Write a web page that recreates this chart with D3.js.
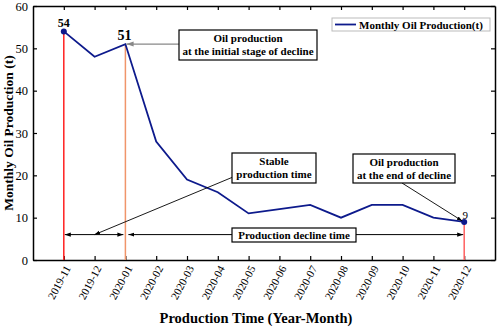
<!DOCTYPE html>
<html>
<head>
<meta charset="utf-8">
<script src="https://cdn.jsdelivr.net/npm/d3@7"></script>
<style>
  body { margin: 0; background: #fff; }
  svg text { font-family: "Liberation Serif", "DejaVu Serif", serif !important; }
</style>
</head>
<body>
<div id="chart"></div>
<script>
// data
const months = ["2019-11", "2019-12", "2020-01", "2020-02", "2020-03", "2020-04", "2020-05",
                "2020-06", "2020-07", "2020-08", "2020-09", "2020-10", "2020-11", "2020-12"];
const oilProduction = [54, 48, 51, 28, 19, 16, 11, 12, 13, 10, 13, 13, 10, 9];
const yTicks = [0, 10, 20, 30, 40, 50, 60];

const width = 498, height = 327;
const margin = { top: 6, right: 3, bottom: 67, left: 33 };
const serif = "'Liberation Serif', 'Times New Roman', serif";

const svg = d3.select("#chart").append("svg")
    .attr("width", width)
    .attr("height", height)
    .attr("font-family", serif);

const x = d3.scaleLinear()
    .domain([-1, months.length])
    .range([margin.left, width - margin.right]);
const y = d3.scaleLinear()
    .domain([0, 60])
    .range([height - margin.bottom, margin.top]);

const xi = i => x(i);
const y0 = y(0);

// axes (inward ticks)
const gX = svg.append("g")
    .attr("transform", `translate(0,${y0})`)
    .call(d3.axisBottom(x).tickValues(d3.range(months.length)).tickFormat(i => months[i])
        .tickSizeInner(-4).tickSizeOuter(0));
gX.selectAll("text")
    .attr("transform", "rotate(-62)")
    .attr("text-anchor", "end")
    .attr("x", -4).attr("y", 6)
    .attr("dy", "0.35em")
    .style("font-size", "11px");

svg.append("g")
    .attr("transform", `translate(0,${margin.top})`)
    .call(d3.axisTop(x).tickValues(d3.range(months.length)).tickFormat("")
        .tickSizeInner(-4).tickSizeOuter(0));

const gY = svg.append("g")
    .attr("transform", `translate(${margin.left},0)`)
    .call(d3.axisLeft(y).tickValues(yTicks).tickSizeInner(-4).tickSizeOuter(0).tickPadding(5));
gY.selectAll("text").style("font-size", "12.5px");

svg.append("g")
    .attr("transform", `translate(${width - margin.right},0)`)
    .call(d3.axisRight(y).tickValues(yTicks).tickFormat("").tickSizeInner(-4).tickSizeOuter(0));

svg.selectAll("g").attr("font-family", serif);
svg.selectAll(".domain").attr("stroke", "#000").attr("stroke-width", 1.5);
svg.selectAll(".tick line").attr("stroke", "#000").attr("stroke-width", 1.2);
svg.selectAll(".tick text").attr("fill", "#000");

// axis titles
svg.append("text")
    .attr("x", 256)
    .attr("y", 323)
    .attr("text-anchor", "middle")
    .style("font-size", "14.5px").style("font-weight", "bold")
    .text("Production Time (Year-Month)");
svg.append("text")
    .attr("transform", `translate(13,${(margin.top + y0) / 2}) rotate(-90)`)
    .attr("text-anchor", "middle")
    .style("font-size", "13.5px").style("font-weight", "bold")
    .text("Monthly Oil Production (t)");

// markers
const defs = svg.append("defs");
function marker(id, color) {
    defs.append("marker")
        .attr("id", id)
        .attr("viewBox", "0 0 10 10")
        .attr("refX", 10).attr("refY", 5)
        .attr("markerWidth", 6).attr("markerHeight", 6)
        .attr("orient", "auto-start-reverse")
        .append("path").attr("d", "M0,1.5L10,5L0,8.5z").attr("fill", color);
}
marker("arr", "#000");
marker("arrGray", "#888");

// vertical reference lines
const vlines = [
    { i: 0, color: "#ff2020" },
    { i: 2, color: "#f0956a" },
    { i: 13, color: "#ff6060" }
];
svg.selectAll(".vline").data(vlines).enter().append("line")
    .attr("x1", d => xi(d.i)).attr("x2", d => xi(d.i))
    .attr("y1", d => y(oilProduction[d.i])).attr("y2", y0)
    .attr("stroke", d => d.color).attr("stroke-width", 1.5);

// main line
const line = d3.line().x((d, i) => xi(i)).y(d => y(d));
svg.append("path")
    .datum(oilProduction)
    .attr("fill", "none")
    .attr("stroke", "#0d1a8c")
    .attr("stroke-width", 1.8)
    .attr("d", line);

[0, 13].forEach(i => {
    svg.append("circle").attr("cx", xi(i)).attr("cy", y(oilProduction[i])).attr("r", 3).attr("fill", "#0d1a8c");
});

// value labels
svg.append("text").attr("x", xi(0)).attr("y", y(54) - 4).attr("text-anchor", "middle")
    .style("font-size", "12px").style("font-weight", "bold").text("54");
svg.append("text").attr("x", xi(2) - 1).attr("y", y(51) - 4).attr("text-anchor", "middle")
    .style("font-size", "14px").style("font-weight", "bold").text("51");
svg.append("text").attr("x", xi(13) + 1).attr("y", y(9) - 3).attr("text-anchor", "middle")
    .style("font-size", "11px").text("9");

// annotation boxes
function box(x0, y0b, w, h, lines, fs) {
    svg.append("rect").attr("x", x0).attr("y", y0b).attr("width", w).attr("height", h)
        .attr("fill", "#fff").attr("stroke", "#000").attr("stroke-width", 1.2);
    const t = svg.append("text").attr("text-anchor", "middle")
        .style("font-size", fs + "px").style("font-weight", "bold");
    lines.forEach((s, k) => {
        t.append("tspan").attr("x", x0 + w / 2)
            .attr("y", y0b + h / 2 + (k - (lines.length - 1) / 2) * (fs + 2) + fs * 0.35)
            .text(s);
    });
}

// arrow to 51
svg.append("line").attr("x1", 179).attr("y1", y(51)).attr("x2", xi(2) + 1).attr("y2", y(51))
    .attr("stroke", "#888").attr("stroke-width", 1.2).attr("marker-end", "url(#arrGray)");
box(179, 30, 138, 30, ["Oil production", "at the initial stage of decline"], 11);

// double arrows for time spans
const yArr = y(6);
svg.append("line").attr("x1", xi(0) + 1).attr("y1", yArr).attr("x2", xi(2) - 2).attr("y2", yArr)
    .attr("stroke", "#000").attr("stroke-width", 1)
    .attr("marker-start", "url(#arr)").attr("marker-end", "url(#arr)");
svg.append("line").attr("x1", xi(2) + 3).attr("y1", yArr).attr("x2", xi(13) - 1).attr("y2", yArr)
    .attr("stroke", "#000").attr("stroke-width", 1)
    .attr("marker-start", "url(#arr)").attr("marker-end", "url(#arr)");

// stable production arrow
svg.append("line").attr("x1", 233).attr("y1", 177).attr("x2", xi(1)).attr("y2", yArr)
    .attr("stroke", "#000").attr("stroke-width", 0.9).attr("marker-end", "url(#arr)");
box(232, 153, 84, 30, ["Stable", "production time"], 11);

// end of decline arrow
svg.append("line").attr("x1", 402).attr("y1", 183).attr("x2", xi(13) - 2).attr("y2", y(9) - 1)
    .attr("stroke", "#000").attr("stroke-width", 0.9).attr("marker-end", "url(#arr)");
box(353, 154, 102, 29, ["Oil production", "at the end of decline"], 11);

box(232, 228, 124, 14, ["Production decline time"], 11);

// legend
svg.append("rect").attr("x", 332).attr("y", 18).attr("width", 158).attr("height", 13)
    .attr("fill", "#fff").attr("stroke", "#bbb").attr("stroke-width", 1);
svg.append("line").attr("x1", 335).attr("x2", 356).attr("y1", 24.5).attr("y2", 24.5)
    .attr("stroke", "#0d1a8c").attr("stroke-width", 1.8);
svg.append("text").attr("x", 359).attr("y", 28.5)
    .style("font-size", "11px").style("font-weight", "bold")
    .text("Monthly Oil Production(t)");
</script>
</body>
</html>
